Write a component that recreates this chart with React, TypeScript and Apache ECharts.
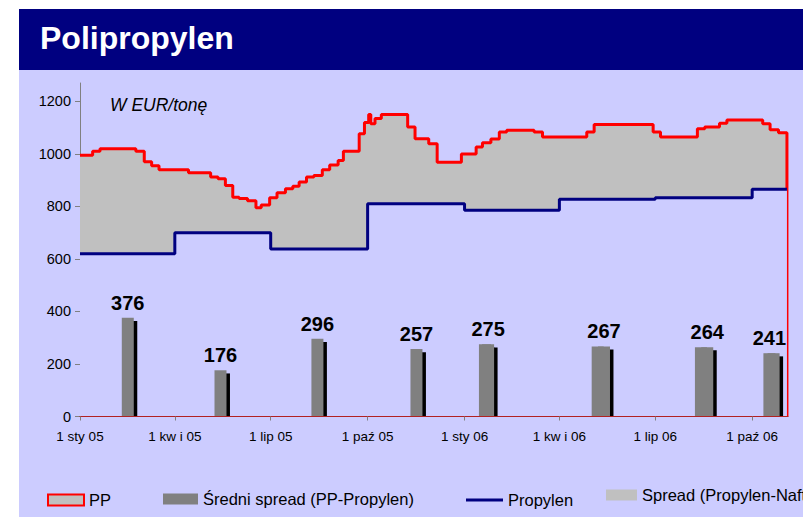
import React, { useEffect, useRef } from 'react';
import * as echarts from 'echarts';

const FONT = '"Liberation Sans", Arial, sans-serif';

// PP price change points (date of change, new level) in EUR/t
const ppDates = ['2005-01-01','2005-01-13','2005-01-20','2005-02-23','2005-03-03','2005-03-10','2005-03-17','2005-04-14','2005-05-05','2005-05-12','2005-05-19','2005-05-26','2005-06-01','2005-06-09','2005-06-17','2005-06-22','2005-06-30','2005-07-07','2005-07-15','2005-07-22','2005-07-28','2005-08-04','2005-08-11','2005-08-19','2005-08-26','2005-09-03','2005-09-08','2005-09-23','2005-09-28','2005-10-02','2005-10-04','2005-10-08','2005-10-14','2005-11-08','2005-11-15','2005-11-28','2005-12-06','2005-12-29','2006-01-12','2006-01-18','2006-01-26','2006-02-03','2006-02-10','2006-03-08','2006-03-16','2006-04-27','2006-05-04','2006-06-29','2006-07-06','2006-08-10','2006-08-17','2006-08-31','2006-09-07','2006-10-11','2006-10-18','2006-10-26','2006-11-03'];
const ppValues = [995,1010,1020,1010,970,955,940,928,912,905,880,835,830,822,795,805,833,852,867,877,893,912,918,940,958,975,1010,1077,1120,1150,1115,1135,1150,1102,1058,1039,968,1000,1026,1042,1057,1083,1090,1083,1064,1083,1112,1083,1064,1096,1102,1117,1129,1115,1092,1081,0];

// Propylen contract price change points
const propDates = ['2005-01-01','2005-04-01','2005-07-01','2005-10-01','2006-01-01','2006-04-01','2006-07-01','2006-10-01','2006-11-03'];
const propValues = [620,700,638,810,785,827,833,865,865];

// Average quarterly spread (PP - Propylen)
const spreadDates = ['2005-02-17','2005-05-16','2005-08-16','2005-11-18','2006-01-22','2006-01-25','2006-05-09','2006-05-15','2006-08-15','2006-08-21','2006-10-19','2006-10-23'];
const spreadValues = [376,176,296,257,275,275,267,267,264,264,241,241];
const spreadLabelled = [true,true,true,true,false,true,false,true,false,true,true,false];

// x axis ticks
const tickDates = ['2005-01-01','2005-04-01','2005-07-01','2005-10-01','2006-01-01','2006-04-01','2006-07-01','2006-10-01'];
const tickLabels = ['1 sty 05','1 kw i 05','1 lip 05','1 paź 05','1 sty 06','1 kw i 06','1 lip 06','1 paź 06'];

const yTicks = [0, 200, 400, 600, 800, 1000, 1200];

const X_MIN = '2005-01-01';
const X_MAX = '2006-11-04';

const utc = (s: string) => {
  const [y, m, d] = s.split('-').map(Number);
  return Date.UTC(y, m - 1, d);
};
// day number since the axis start
const day = (s: string) => Math.round((utc(s) - utc(X_MIN)) / 86400000);

export default function App() {
  const ref = useRef<HTMLDivElement>(null);
  useEffect(() => {
    const chart = echarts.init(ref.current!, null, { renderer: 'svg' });
    const tickDays = tickDates.map(day);
    const legendText = { fontFamily: FONT, fontSize: 16.5, color: '#000', lineHeight: 20 };
    const option: any = {
      animation: false,
      backgroundColor: '#FFFFFF',
      textStyle: { fontFamily: FONT },
      graphic: [
        { type: 'rect', z: -10, shape: { x: 19, y: 9, width: 784, height: 61 }, style: { fill: '#000080' } },
        { type: 'rect', z: -10, shape: { x: 19, y: 70, width: 784, height: 447 }, style: { fill: '#CCCCFF' } },
        { type: 'text', z: 10, x: 40, y: 38, style: { text: 'Polipropylen', fill: '#FFFFFF', font: `bold 32px ${FONT}`, verticalAlign: 'middle' } },
        { type: 'text', z: 10, x: 110, y: 104.5, style: { text: 'W EUR/tonę', fill: '#000000', font: `italic 17.5px ${FONT}`, verticalAlign: 'middle' } },
      ],
      grid: { left: 80, right: 15, top: 83, bottom: 100.5, containLabel: false },
      xAxis: {
        type: 'value',
        min: 0,
        max: day(X_MAX),
        z: 10,
        axisLine: { show: true, onZero: false, lineStyle: { color: '#B22222', width: 1.2 } },
        axisTick: { show: true, length: 4, customValues: tickDays, lineStyle: { color: '#808080' } },
        splitLine: { show: false },
        axisLabel: {
          customValues: tickDays,
          margin: 13,
          fontSize: 13.5,
          color: '#000',
          fontFamily: FONT,
          formatter: (v: number) => {
            const i = tickDays.findIndex((t) => Math.abs(t - v) < 0.5);
            return i >= 0 ? tickLabels[i] : '';
          },
        },
      },
      yAxis: {
        type: 'value',
        min: 0,
        max: 1270,
        axisLine: { show: true, lineStyle: { color: '#808080', width: 1 } },
        axisTick: { show: true, length: 5, customValues: yTicks, lineStyle: { color: '#808080' } },
        splitLine: { show: false },
        axisLabel: {
          customValues: yTicks,
          margin: 9,
          fontSize: 14.5,
          color: '#000',
          fontFamily: FONT,
          formatter: (v: number) => String(v),
        },
      },
      legend: [
        { data: [{ name: 'PP', icon: 'rect', itemStyle: { color: '#C0C0C0', borderColor: '#FF0000', borderWidth: 2 } }], left: 47, top: 490, padding: 0, itemWidth: 36, itemHeight: 11, selectedMode: false, textStyle: legendText },
        { data: [{ name: 'Średni spread (PP-Propylen)', icon: 'rect' }], left: 163, top: 489, padding: 0, itemWidth: 35, itemHeight: 11, selectedMode: false, textStyle: legendText },
        { data: [{ name: 'Propylen', icon: 'rect' }], left: 466, top: 490, padding: 0, itemWidth: 37, itemHeight: 3, selectedMode: false, textStyle: legendText },
        { data: [{ name: 'Spread (Propylen-Nafta)', icon: 'rect' }], left: 606, top: 485, padding: 0, itemWidth: 31, itemHeight: 11, selectedMode: false, textStyle: legendText },
      ],
      series: [
        {
          name: 'PP',
          type: 'line',
          step: 'end',
          symbol: 'none',
          color: '#FF0000',
          lineStyle: { color: '#FF0000', width: 3 },
          areaStyle: { color: '#C0C0C0', opacity: 1 },
          data: ppDates.map((d, i) => [day(d), ppValues[i]]),
          z: 2,
        },
        {
          name: 'Propylen',
          type: 'line',
          step: 'end',
          symbol: 'none',
          color: '#000080',
          lineStyle: { color: '#000080', width: 3 },
          areaStyle: { color: '#CCCCFF', opacity: 1 },
          data: propDates.map((d, i) => [day(d), propValues[i]]),
          z: 3,
        },
        {
          name: 'Spread (Propylen-Nafta)',
          type: 'line',
          color: '#C0C0C0',
          data: [],
        },
        {
          name: 'Średni spread (PP-Propylen)',
          type: 'bar',
          barWidth: 12,
          barGap: '-71%',
          color: '#808080',
          itemStyle: { color: '#808080' },
          z: 5,
          label: {
            show: false,
            position: 'top',
            distance: 5,
            fontSize: 20,
            fontWeight: 'bold',
            color: '#000',
            fontFamily: FONT,
            formatter: (p: any) => String(p.value[1]),
          },
          data: spreadDates.map((d, i) => ({
            value: [day(d), spreadValues[i]],
            label: { show: spreadLabelled[i] },
          })),
        },
        {
          name: 'cień',
          type: 'bar',
          barWidth: 12,
          barGap: '-71%',
          color: '#000000',
          itemStyle: { color: '#000000' },
          z: 4,
          data: spreadDates.map((d, i) => [day(d), spreadValues[i] - 12]),
        },
      ],
    };
    chart.setOption(option);
    return () => chart.dispose();
  }, []);
  return (
    <div
      ref={ref}
      style={{ position: 'absolute', left: 0, top: 0, width: 803, height: 517 }}
    />
  );
}
